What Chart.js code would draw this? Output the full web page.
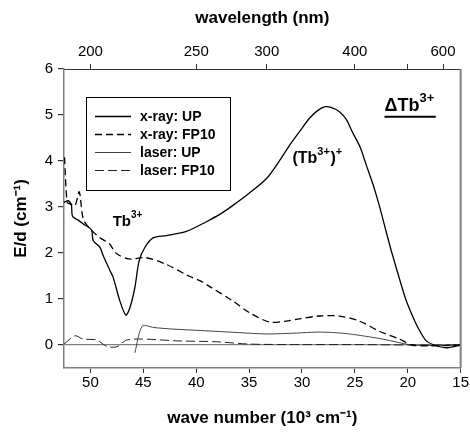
<!DOCTYPE html>
<html>
<head>
<meta charset="utf-8">
<script src="https://cdn.jsdelivr.net/npm/chart.js@4"></script>
<style>
html,body{margin:0;padding:0;background:#fff;}
#wrap{width:470px;height:432px;}
</style>
</head>
<body>
<div id="wrap"><canvas id="c" width="470" height="432"></canvas></div>
<script>
// wave number in 10^3 cm^-1, E/d in cm^-1
const xrayUP_x = [52.5,52.1,51.8,51.7,51.2,50.6,49.9,49.74,49.1,48.79,48.16,47.85,47.22,46.65,46.27,45.8,45.4,44.86,44.08,42.81,40.92,39.04,37.7,36.56,35.0,33.35,32.2,31.18,30.2,29.29,28.5,27.8,27.2,26.46,25.8,25.24,24.5,23.92,23.3,22.69,22.03,21.56,20.8,20.14,19.3,18.8,18.25,17.5,16.4,15.0];
const xrayUP_y = [3.10,3.14,3.04,2.80,2.72,2.62,2.50,2.27,2.12,1.94,1.62,1.47,0.96,0.65,0.81,1.25,1.83,2.12,2.33,2.38,2.47,2.68,2.85,3.03,3.30,3.62,3.98,4.34,4.65,4.93,5.10,5.18,5.16,5.07,4.90,4.63,4.30,3.91,3.50,3.03,2.45,2.05,1.45,0.96,0.50,0.28,0.09,0.00,-0.06,0.00];

const xrayFP_x = [52.45,52.2,51.93,51.46,51.06,50.68,50.05,49.1,48.2,47.6,46.4,44.8,42.9,40.7,39.67,38.8,36.56,34.95,33.07,31.5,30.24,28.35,26.46,24.58,22.69,20.8,19.6,18.0,15.0];
const xrayFP_y = [4.08,3.10,3.07,3.03,3.33,2.74,2.53,2.33,2.20,2.00,1.87,1.90,1.76,1.50,1.40,1.28,0.96,0.70,0.50,0.52,0.57,0.63,0.63,0.52,0.30,0.13,0.00,-0.02,0.00];

const laserUP_x = [45.8,45.1,44.0,42.5,40.0,38.4,36.0,33.35,30.5,28.63,27.0,25.5,24.0,22.4,21.0,19.6,17.5,15.0];
const laserUP_y = [-0.17,0.41,0.38,0.35,0.32,0.30,0.27,0.24,0.26,0.28,0.27,0.24,0.19,0.13,0.06,0.00,-0.01,0.00];

const laserFP_x = [52.5,51.46,50.7,49.39,48.82,48.35,47.5,47.03,46.56,45.05,41.84,38.07,34.95,30.0,25.0,20.0,15.0];
const laserFP_y = [0.02,0.20,0.13,0.11,0.02,-0.04,-0.04,0.04,0.11,0.13,0.09,0.07,0.02,0.01,0.01,0.00,0.00];

const seriesNames = ['x-ray: UP','x-ray: FP10','laser: UP','laser: FP10'];
const xTicks = [50,45,40,35,30,25,20,15];
const yTicks = [0,1,2,3,4,5,6];
const wlTicks = [200,250,300,400,500,600];
const wlLabels = ['200','250','300','400','','600'];

const FONT = "'Liberation Sans', Arial, Helvetica, sans-serif";

function pts(xs, ys){ return xs.map((x,i)=>({x:x, y:ys[i]})); }

const framePlugin = {
  id:'frame',
  afterDraw(chart){
    const {ctx, chartArea:a} = chart;
    ctx.save();
    ctx.strokeStyle = '#808080';
    ctx.lineWidth = 2;
    ctx.beginPath();
    ctx.moveTo(a.right, a.top); ctx.lineTo(a.right, a.bottom);
    ctx.stroke();
    ctx.restore();
  }
};

const legendPlugin = {
  id:'boxLegend',
  afterDraw(chart){
    const ctx = chart.ctx;
    ctx.save();
    ctx.strokeStyle = '#000';
    ctx.lineWidth = 1;
    ctx.strokeRect(86.5, 97.5, 144, 93);
    chart.data.datasets.forEach((ds,i)=>{
      const y = 116 + 18*i;
      ctx.strokeStyle = ds.borderColor;
      ctx.lineWidth = ds.borderWidth;
      ctx.setLineDash(ds.borderDash || []);
      ctx.beginPath(); ctx.moveTo(95, y+0.5); ctx.lineTo(131, y+0.5); ctx.stroke();
      ctx.setLineDash([]);
      ctx.fillStyle = '#000';
      ctx.font = 'bold 14px ' + FONT;
      ctx.textBaseline = 'middle';
      ctx.textAlign = 'left';
      ctx.fillText(ds.label, 140, y+1);
    });
    ctx.restore();
  }
};

function supText(ctx, parts, x, y, big, small, rise){
  let cx = x;
  parts.forEach(p=>{
    if (p[1]) { ctx.font = 'bold ' + small + 'px ' + FONT; ctx.fillText(p[0], cx, y-rise); }
    else { ctx.font = 'bold ' + big + 'px ' + FONT; ctx.fillText(p[0], cx, y); }
    cx += ctx.measureText(p[0]).width + (p[1] ? 0.5 : 0);
  });
  return cx;
}

const annotPlugin = {
  id:'annot',
  afterDraw(chart){
    const ctx = chart.ctx, xs = chart.scales.x, ys = chart.scales.y;
    ctx.save();
    ctx.fillStyle = '#000';
    ctx.textBaseline = 'alphabetic';
    ctx.textAlign = 'left';
    supText(ctx, [['Tb',0],['3+',1]], xs.getPixelForValue(47.9), ys.getPixelForValue(2.58), 15, 10, 8);
    supText(ctx, [['(Tb',0],['3+',1],[')',0],['+',1]], xs.getPixelForValue(30.9), ys.getPixelForValue(3.95), 16, 11, 8);
    const x0 = xs.getPixelForValue(22.2), y0 = ys.getPixelForValue(5.09);
    const x1 = supText(ctx, [['\u0394Tb',0],['3+',1]], x0, y0, 18, 13, 9);
    ctx.strokeStyle = '#000'; ctx.lineWidth = 2;
    ctx.beginPath(); ctx.moveTo(x0, y0+6); ctx.lineTo(x1+1, y0+6); ctx.stroke();
    ctx.restore();
  }
};

const datasets = [
  {label:seriesNames[0], data:pts(xrayUP_x,xrayUP_y), borderColor:'#000', borderWidth:1.3},
  {label:seriesNames[1], data:pts(xrayFP_x,xrayFP_y), borderColor:'#000', borderWidth:1.3, borderDash:[7,4]},
  {label:seriesNames[2], data:pts(laserUP_x,laserUP_y), borderColor:'#444', borderWidth:1},
  {label:seriesNames[3], data:pts(laserFP_x,laserFP_y), borderColor:'#222', borderWidth:1, borderDash:[9,4]}
].map(d=>Object.assign({showLine:true, pointRadius:0, tension:0.3, fill:false}, d));

new Chart(document.getElementById('c'), {
  type:'scatter',
  data:{datasets},
  plugins:[framePlugin, legendPlugin, annotPlugin],
  options:{
    responsive:false,
    animation:false,
    devicePixelRatio:1,
    layout:{padding:{left:0,right:9,top:0,bottom:0}},
    plugins:{legend:{display:false}, tooltip:{enabled:false}},
    scales:{
      x:{
        type:'linear', position:'bottom', min:15, max:52.5, reverse:true,
        afterBuildTicks(s){ s.ticks = xTicks.map(v=>({value:v})); },
        afterFit(s){ s.height = 64; },
        grid:{drawOnChartArea:false, tickLength:5, color:'#333'},
        border:{color:'#808080', width:1.5},
        ticks:{color:'#000', font:{family:FONT, size:15}, padding:1, maxRotation:0, autoSkip:false},
        title:{display:true, text:'wave number (10\u00B3 cm\u207B\u00B9)', color:'#000', font:{family:FONT, size:17, weight:'bold'}, padding:{top:0,bottom:3}}
      },
      x2:{
        type:'linear', position:'top', min:15, max:52.5, reverse:true,
        afterBuildTicks(s){ s.ticks = wlTicks.map(nm=>({value:1e4/nm})); },
        afterFit(s){ s.height = 69; },
        grid:{drawOnChartArea:false, tickLength:5, color:'#333'},
        border:{color:'#333', width:1},
        ticks:{color:'#000', font:{family:FONT, size:15}, padding:3, maxRotation:0, autoSkip:false,
               callback:(v,i)=>wlLabels[i]},
        title:{display:true, text:'wavelength (nm)', color:'#000', font:{family:FONT, size:17, weight:'bold'}, padding:{top:8,bottom:0}}
      },
      y:{
        type:'linear', position:'left', min:-0.5, max:6,
        afterBuildTicks(s){ s.ticks = yTicks.map(v=>({value:v})); },
        afterFit(s){ s.width = 64; },
        grid:{color:(c)=> (c.tick && c.tick.value===0) ? '#808080' : 'rgba(0,0,0,0)', tickColor:'#333', tickLength:6, lineWidth:1.2},
        border:{color:'#808080', width:1.5},
        ticks:{color:'#000', font:{family:FONT, size:15}, padding:5},
        title:{display:true, text:'E/d (cm\u207B\u00B9)', color:'#000', font:{family:FONT, size:17, weight:'bold'}, padding:{top:11,bottom:0}}
      }
    }
  }
});
</script>
</body>
</html>
